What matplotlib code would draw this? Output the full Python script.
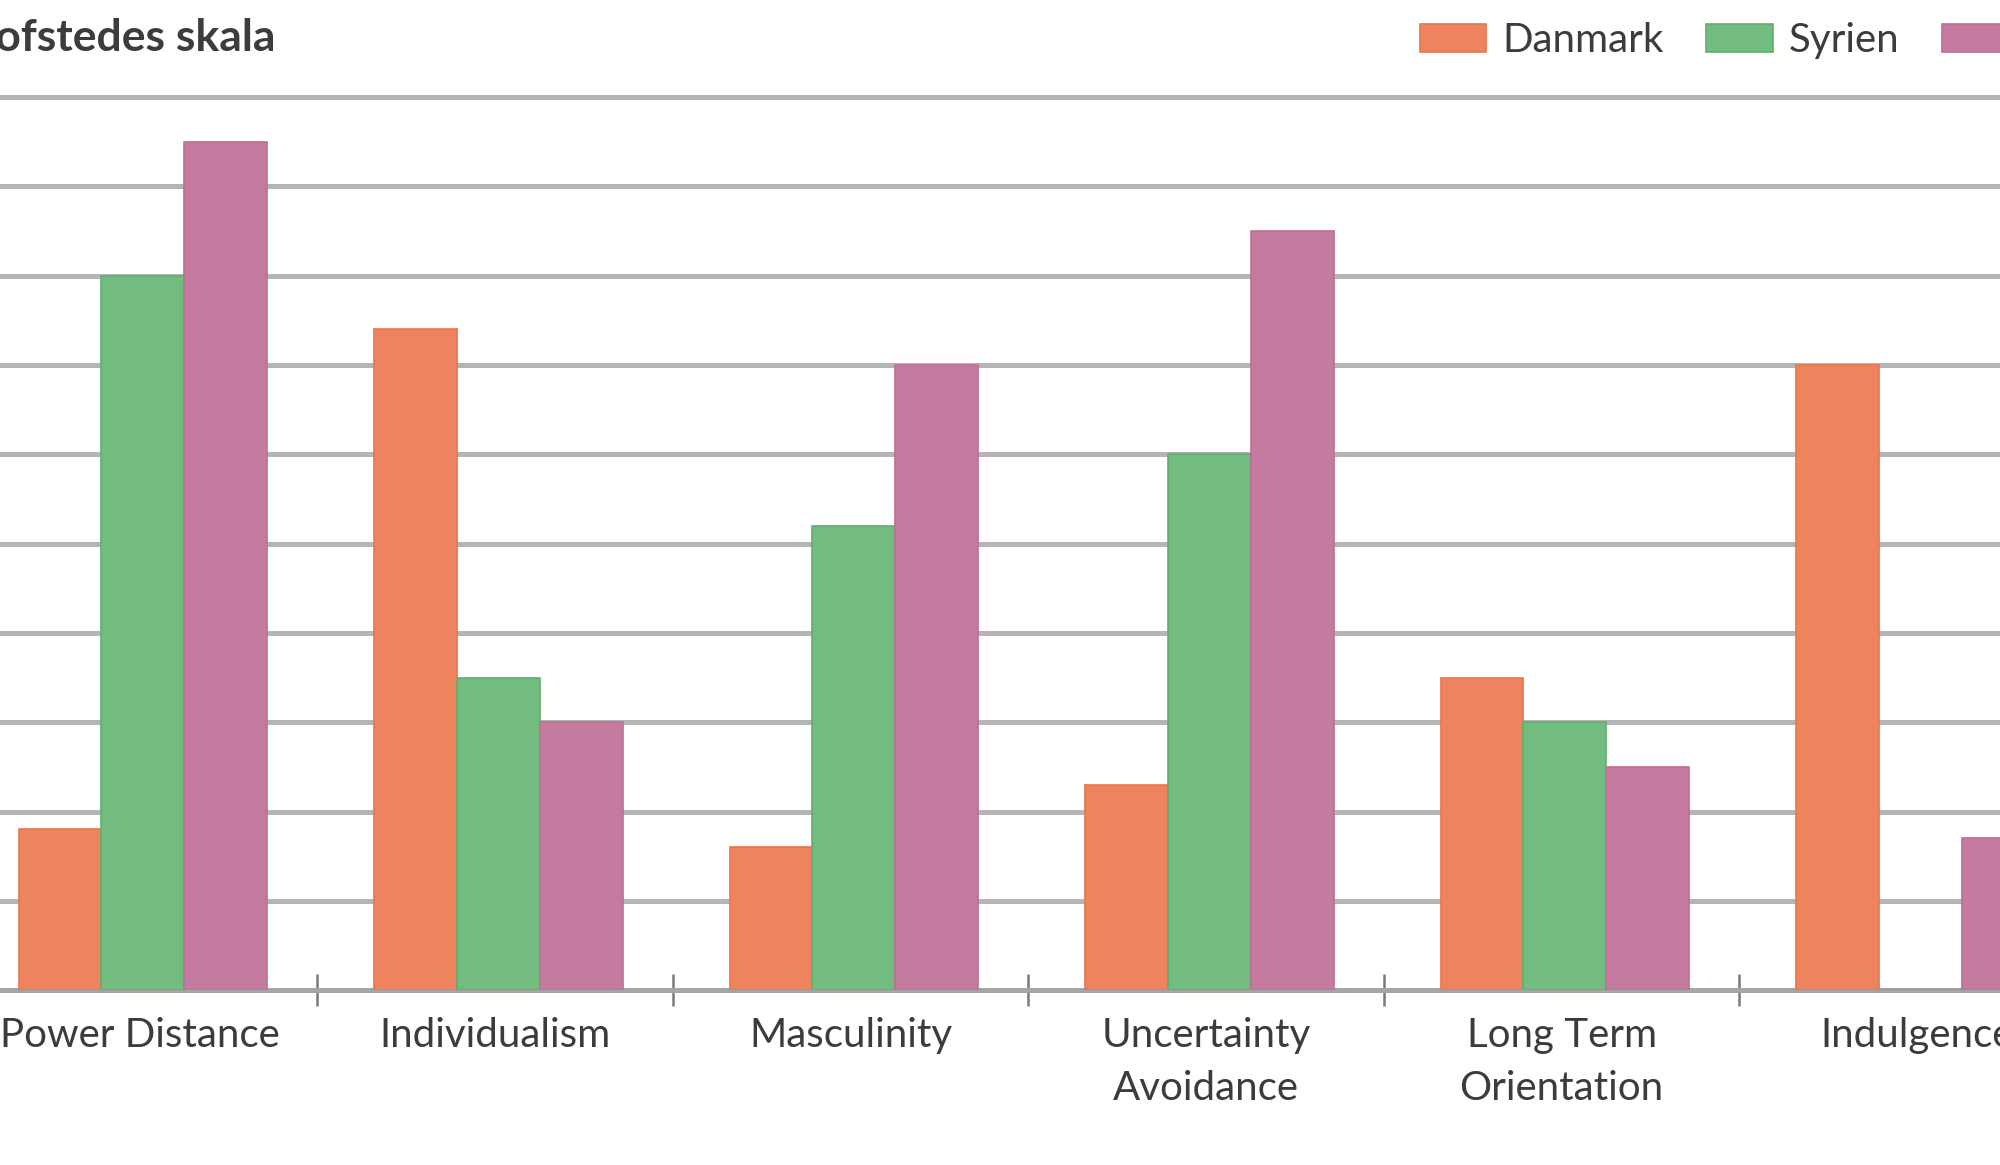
import numpy as np
import matplotlib
matplotlib.use('Agg')
import matplotlib.pyplot as plt
from matplotlib.ticker import FixedLocator

# Data (Hofstede-dimensioner)
categories = ['Power Distance', 'Individualism', 'Masculinity',
              'Uncertainty\nAvoidance', 'Long Term\nOrientation', 'Indulgence']
danmark = [18, 74, 16, 23, 35, 70]
syrien = [80, 35, 52, 60, 30, 0]
irak = [95, 30, 70, 85, 25, 17]
series_names = ['Danmark', 'Syrien', 'Irak']

colors = ['#EE845E', '#72BC80', '#C47B9F']
edges = ['#E8764C', '#5FAF6E', '#BD6E94']
text_col = '#3C3C3C'

plt.rcParams['font.family'] = ['Lato', 'DejaVu Sans']

fig = plt.figure(figsize=(20, 11.65), dpi=100)
ax = fig.add_axes([0, 0.150, 1, 0.7667])

x = np.arange(len(categories))
w = 0.233
off = 0.009  # bars sit a hair right of the category centre
bars = []
for i, (vals, c, ec) in enumerate(zip([danmark, syrien, irak], colors, edges)):
    b = ax.bar(x + off + (i - 1) * w, vals, width=w, color=c, edgecolor=ec, linewidth=1.2,
               label=series_names[i], zorder=3)
    bars.append(b)

ax.set_xlim(-0.393, 5.233)
ax.set_ylim(0, 100)
ax.set_yticks(np.arange(0, 101, 10))
ax.yaxis.grid(True, color='#B5B5B5', linewidth=3.6)
for gl in ax.get_ygridlines():
    gl.set_clip_on(False)
ax.set_axisbelow(True)
ax.tick_params(axis='y', length=0, labelleft=False)

for s in ['top', 'left', 'right']:
    ax.spines[s].set_visible(False)
ax.spines['bottom'].set_color('#A5A5A5')
ax.spines['bottom'].set_linewidth(3.6)

ax.set_xticks(x)
ax.set_xticklabels(categories, fontsize=29, color=text_col, linespacing=1.55, va='top')
ax.tick_params(axis='x', which='major', length=0, pad=19)
ax.xaxis.set_minor_locator(FixedLocator(x[:-1] + 0.5))
ax.tick_params(axis='x', which='minor', direction='inout', length=23, width=1.8, color='#7A7A7A')

fig.text(-0.0195, 0.967, 'Hofstedes skala', fontsize=32, fontweight='bold', color=text_col,
         ha='left', va='center')

fig.legend(handles=bars, labels=series_names, ncol=3, loc='upper left',
           bbox_to_anchor=(0.710, 0.981), frameon=False, fontsize=29,
           handlelength=1.65, handleheight=0.7, handletextpad=0.4, columnspacing=1.05,
           borderpad=0, borderaxespad=0, labelcolor=text_col)

fig.savefig('out.png', dpi=100)
